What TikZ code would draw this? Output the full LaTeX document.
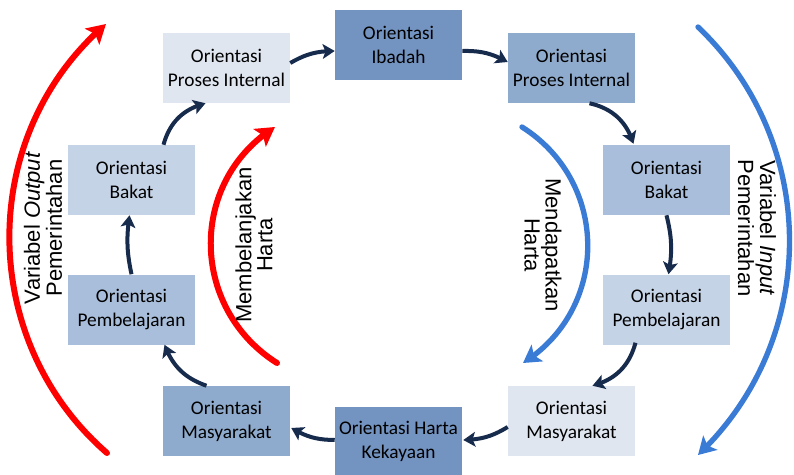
\documentclass[tikz,border=0pt]{standalone}
\usepackage{fontspec}
\setmainfont{Carlito}
\newfontfamily\labfont{Liberation Sans}
\usetikzlibrary{arrows.meta,bending,calc}
\definecolor{bA}{HTML}{7393C0}
\definecolor{bB}{HTML}{8EAACC}
\definecolor{bC}{HTML}{A9BEDA}
\definecolor{bD}{HTML}{C5D3E6}
\definecolor{bE}{HTML}{DFE6F0}
\definecolor{navy}{HTML}{172B4D}
\definecolor{arcblue}{HTML}{3A7BD5}
\definecolor{arcred}{HTML}{FF0000}
\begin{document}
\begin{tikzpicture}[x=0.75pt,y=-0.75pt,
  box/.style={minimum width=95.25pt,minimum height=52.5pt,inner sep=0pt,align=center,
    font=\fontsize{14.5}{18}\selectfont,text=black},
  conn/.style={draw=navy,line width=3pt,-{Stealth[length=9pt,width=11pt,inset=2pt,flex]}},
  redarc/.style={draw=arcred,line width=4.5pt,line cap=round,-{Stealth[length=14pt,width=16pt,inset=3pt,flex]}},
  bluearc/.style={draw=arcblue,line width=4pt,line cap=round,-{Stealth[length=13pt,width=15pt,inset=3pt,flex]}},
  lab/.style={align=center,inner sep=0pt,font=\labfont\fontsize{16.5}{13.5}\selectfont}]
\useasboundingbox (0,0) rectangle (794,475);
% boxes
\node[box,fill=bE] (lp) at (226.5,68) {Orientasi\\Proses Internal};
\node[box,fill=bA] (ib) at (398.5,45) {Orientasi\\Ibadah};
\node[box,fill=bB] (rp) at (571.5,68) {Orientasi\\Proses Internal};
\node[box,fill=bC] (rb) at (666.5,180) {Orientasi\\Bakat};
\node[box,fill=bD] (rpb) at (666.5,309.5) {Orientasi\\Pembelajaran};
\node[box,fill=bE] (rm) at (571.5,421) {Orientasi\\Masyarakat};
\node[box,fill=bA,minimum height=51pt] (kk) at (398.5,441) {Orientasi Harta\\Kekayaan};
\node[box,fill=bB] (lm) at (226.5,421) {Orientasi\\Masyarakat};
\node[box,fill=bC] (lpb) at (131.5,309.5) {Orientasi\\Pembelajaran};
\node[box,fill=bD] (lb) at (131.5,180) {Orientasi\\Bakat};
% connectors
\draw[conn] ($(lp.east)+(0,-5)$) to[bend left=15] ($(ib.west)+(0,6)$);
\draw[conn] ($(ib.east)+(0,6)$) to[bend left=15] ($(rp.west)+(0,-6)$);
\draw[conn] ($(rp.south)+(18,0)$) to[bend left=30] ($(rb.north)+(-33,-1)$);
\draw[conn] ($(rb.south)+(0,0)$) to[bend left=12] ($(rpb.north)+(2,0)$);
\draw[conn] ($(rpb.south)+(-31,-2)$) to[bend left=30] ($(rm.north)+(21,0)$);
\draw[conn] ($(rm.west)+(0,6)$) to[bend left=15] ($(kk.east)+(1,-1)$);
\draw[conn] ($(kk.west)+(0,-1)$) to[bend left=15] ($(lm.east)+(1,7)$);
\draw[conn] ($(lm.north)+(-20,0)$) to[bend left=25] ($(lpb.south)+(33,0)$);
\draw[conn] ($(lpb.north)+(0,0)$) to[bend left=10] ($(lb.south)+(-2,0)$);
\draw[conn] ($(lb.north)+(32,0)$) to[bend left=30] ($(lp.south)+(-21,0)$);
% arcs
\coordinate (ro1) at (107,453); \coordinate (ro2) at (106,24);
\coordinate (ri1) at (277,363); \coordinate (ri2) at (275,127);
\coordinate (bi1) at (522,127); \coordinate (bi2) at (523,363);
\coordinate (bo1) at (698,27);  \coordinate (bo2) at (698,455);
\draw[redarc] (ro1) .. controls (-22,341) and (-24,136) .. (ro2);
\draw[redarc] (ri1) .. controls (190,308) and (188,182) .. (ri2);
\draw[bluearc] (bi1) .. controls (609,182) and (610,308) .. (bi2);
\draw[bluearc] (bo1) .. controls (820,143) and (820,339) .. (bo2);
% labels
\node[lab,rotate=90] (lo) at (43,228) {Variabel \textit{Output}\\Pemerintahan};
\node[lab,rotate=90] (lm2) at (254,245) {Membelanjakan\\Harta};
\node[lab,rotate=-90] (rm2) at (543,245) {Mendapatkan\\Harta};
\node[lab,rotate=-90] (ri) at (757,228) {Variabel \textit{Input}\\Pemerintahan};
\end{tikzpicture}
\end{document}
